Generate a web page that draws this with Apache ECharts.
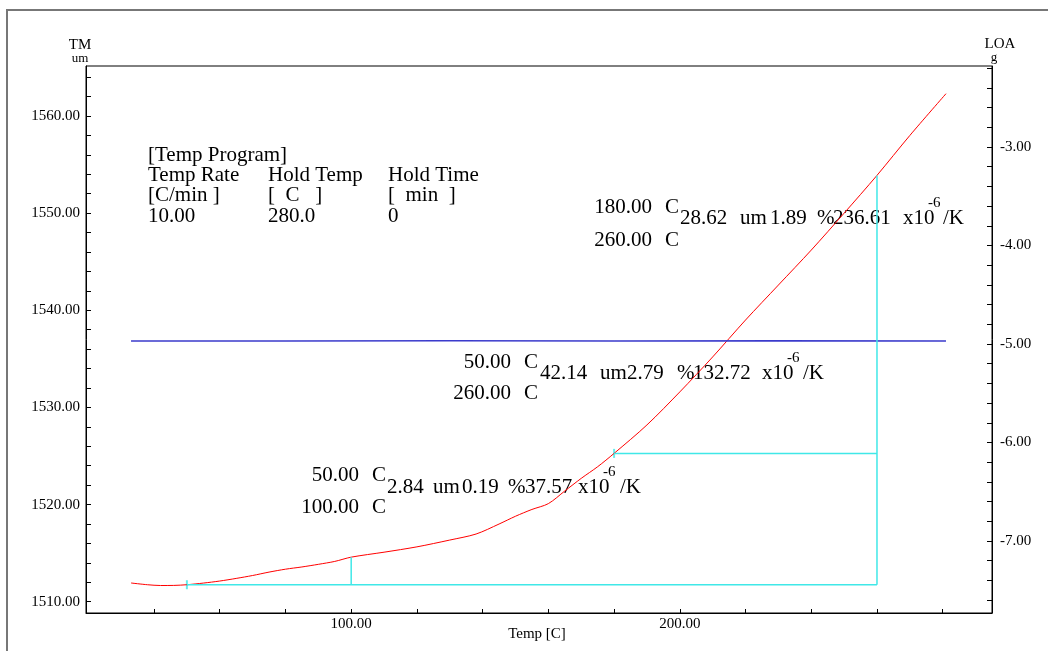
<!DOCTYPE html>
<html>
<head>
<meta charset="utf-8">
<title>TMA</title>
<script src="https://cdn.jsdelivr.net/npm/echarts@6.0.0/dist/echarts.min.js"></script>
<style>
html, body { margin: 0; padding: 0; background: #fff; }
#chart { width: 1048px; height: 651px; }
</style>
</head>
<body>
<div id="chart"></div>
<script>
// TMA curve (left axis, um)
var tempC = [33, 38, 42, 46, 50, 55, 60, 65, 70, 75, 80, 85, 90, 95, 100, 110, 120, 130, 138, 145, 150, 155, 160, 165, 170, 175, 180, 190, 200, 210, 220, 230, 240, 250, 260, 270, 281];
var lengthUm = [1511.93, 1511.75, 1511.67, 1511.68, 1511.75, 1511.92, 1512.13, 1512.40, 1512.70, 1513.05, 1513.35, 1513.58, 1513.85, 1514.15, 1514.59, 1515.10, 1515.65, 1516.35, 1516.97, 1518.0, 1518.8, 1519.5, 1520.1, 1521.4, 1522.7, 1523.9, 1525.27, 1528.2, 1531.6, 1535.2, 1539.0, 1542.6, 1546.2, 1550.0, 1553.89, 1558.0, 1562.3];

// load curve (right axis, g)
var loadTemp = [33, 80, 130, 180, 230, 281];
var loadG = [-4.97, -4.97, -4.968, -4.97, -4.968, -4.97];

// measurement points (cyan construction lines)
var measTemp = [50, 100, 180, 260];
var measLen = [1511.75, 1514.59, 1525.27, 1553.89];

// tick labels
var xLabels = [100, 200];
var leftLabels = [1510, 1520, 1530, 1540, 1550, 1560];
var rightLabels = [-7, -6, -5, -4, -3];

var FONT = '"Liberation Serif", "DejaVu Serif", serif';
var CYAN = '#40e8e8';

function range(a, b, step) {
	var out = [];
	for (var v = a; v <= b + 1e-9; v += step) {
		out.push(Math.round(v * 100) / 100);
	}
	return out;
}

var curve = tempC.map(function (t, i) { return [t, lengthUm[i]]; });
var load = loadTemp.map(function (t, i) { return [t, loadG[i]]; });

// cyan lines : baseline, vertical at 100, horizontal at 180, vertical at 260
var cyanSegs = [
	[[measTemp[0], measLen[0]], [measTemp[3], measLen[0]]],
	[[measTemp[1], measLen[0]], [measTemp[1], measLen[1]]],
	[[measTemp[2], measLen[2]], [measTemp[3], measLen[2]]],
	[[measTemp[3], measLen[0]], [measTemp[3], measLen[3]]]
];

var series = [];
series.push({
	type: 'line', xAxisIndex: 0, yAxisIndex: 0, data: curve,
	showSymbol: false, smooth: 0.3, silent: true,
	lineStyle: { color: '#ff0000', width: 1 }
});
series.push({
	type: 'line', xAxisIndex: 0, yAxisIndex: 1, data: load,
	showSymbol: false, silent: true,
	lineStyle: { color: '#3b3bcc', width: 1.5 }
});
cyanSegs.forEach(function (seg) {
	series.push({
		type: 'line', xAxisIndex: 0, yAxisIndex: 0, data: seg,
		showSymbol: false, silent: true,
		lineStyle: { color: CYAN, width: 1.5 }
	});
});
series.push({
	type: 'scatter', xAxisIndex: 0, yAxisIndex: 0, silent: true,
	data: [[measTemp[0], measLen[0]], [measTemp[2], measLen[2]]],
	symbol: 'rect', symbolSize: [2, 9],
	itemStyle: { color: CYAN }
});

// text helper for the graphic layer
function txt(x, y, s, opt) {
	opt = opt || {};
	return {
		type: 'text', x: x, y: y, silent: true,
		style: {
			text: s, fill: '#000',
			font: (opt.size || 21) + 'px ' + FONT,
			textAlign: opt.align || 'left',
			textVerticalAlign: 'middle'
		}
	};
}

var graphics = [];
graphics.push({
	type: 'rect', silent: true,
	shape: { x: 7, y: 10, width: 1200, height: 800 },
	style: { fill: 'none', stroke: '#777', lineWidth: 2 }
});

// axis names
graphics.push(txt(80, 45, 'TM', { size: 15, align: 'center' }));
graphics.push(txt(80, 59, 'um', { size: 13, align: 'center' }));
graphics.push(txt(1000, 44, 'LOA', { size: 15, align: 'center' }));
graphics.push(txt(994, 58, 'g', { size: 13, align: 'center' }));
graphics.push(txt(537, 634, 'Temp [C]', { size: 15, align: 'center' }));

// temperature program block
var progCols = [148, 268, 388];
var progRows = [
	['Temp Rate', 'Hold Temp', 'Hold Time'],
	['[C/min ]', '[  C   ]', '[  min  ]'],
	['10.00', '280.0', '0']
];
graphics.push(txt(148, 155, '[Temp Program]'));
progRows.forEach(function (row, r) {
	row.forEach(function (s, c) {
		graphics.push(txt(progCols[c], 175 + r * 20.5, s));
	});
});

// result annotations
function result(g) {
	graphics.push(txt(g.numRight, g.y1, g.t1, { align: 'right' }));
	graphics.push(txt(g.numRight + 13, g.y1, 'C'));
	graphics.push(txt(g.numRight, g.y2, g.t2, { align: 'right' }));
	graphics.push(txt(g.numRight + 13, g.y2, 'C'));
	var p = g.parts;
	graphics.push(txt(p[0], g.yr, g.dl));
	graphics.push(txt(p[1], g.yr, 'um'));
	graphics.push(txt(p[2], g.yr, g.pct));
	graphics.push(txt(p[3], g.yr, '%'));
	graphics.push(txt(p[4], g.yr, g.cte));
	graphics.push(txt(p[5], g.yr, 'x10'));
	graphics.push(txt(p[6], g.yr - 15, '-6', { size: 15 }));
	graphics.push(txt(p[7], g.yr, '/K'));
}
result({ numRight: 652, y1: 207, y2: 240, t1: '180.00', t2: '260.00', yr: 218,
	dl: '28.62', pct: '1.89', cte: '236.61',
	parts: [680, 740, 770, 817, 833, 903, 928, 943] });
result({ numRight: 511, y1: 362, y2: 393, t1: '50.00', t2: '260.00', yr: 373,
	dl: '42.14', pct: '2.79', cte: '132.72',
	parts: [540, 600, 627, 677, 693, 762, 787, 803] });
result({ numRight: 359, y1: 475, y2: 507, t1: '50.00', t2: '100.00', yr: 487,
	dl: '2.84', pct: '0.19', cte: '37.57',
	parts: [387, 433, 462, 508, 525, 578, 603, 620] });

var labelStyle = { color: '#000', fontFamily: FONT, fontSize: 15 };
var lineStyle = { color: '#000', width: 1 };

var option = {
	animation: false,
	backgroundColor: '#fff',
	grid: { left: 86, right: 56, top: 66, bottom: 38, show: true, borderColor: '#000', borderWidth: 1 },
	xAxis: [{
		type: 'value', min: 19.3, max: 295,
		axisLine: { lineStyle: lineStyle },
		axisTick: { inside: true, length: 4, lineStyle: lineStyle, customValues: range(40, 280, 20) },
		axisLabel: Object.assign({ margin: 4, customValues: xLabels, formatter: function (v) { return v.toFixed(2); } }, labelStyle),
		splitLine: { show: false }
	}],
	yAxis: [{
		type: 'value', position: 'left', min: 1508.84, max: 1565.15,
		axisLine: { show: true, lineStyle: lineStyle },
		axisTick: { show: true, inside: true, length: 5, lineStyle: lineStyle, customValues: range(1510, 1564, 2) },
		axisLabel: Object.assign({ margin: 6, customValues: leftLabels, formatter: function (v) { return v.toFixed(2); } }, labelStyle),
		splitLine: { show: false }
	}, {
		type: 'value', position: 'right', min: -7.731, max: -2.178,
		axisLine: { show: true, lineStyle: lineStyle },
		axisTick: { show: true, inside: true, length: 5, lineStyle: lineStyle, customValues: range(-7.6, -2.2, 0.2) },
		axisLabel: Object.assign({ margin: 8, customValues: rightLabels, formatter: function (v) { return v.toFixed(2); } }, labelStyle),
		splitLine: { show: false }
	}],
	series: series,
	graphic: graphics
};

var chart = echarts.init(document.getElementById('chart'), null, { renderer: 'canvas' });
chart.setOption(option);
</script>
</body>
</html>
